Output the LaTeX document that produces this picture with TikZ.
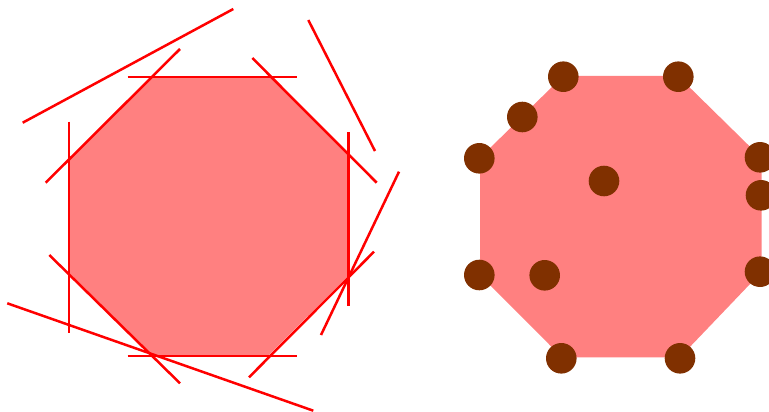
\documentclass[tikz,border=0pt]{standalone}
\definecolor{octfill}{RGB}{255,128,128}
\definecolor{dotbrown}{RGB}{128,48,0}
\tikzset{
  tline/.style={draw=red, line width=2.5pt},
  octo/.style={fill=octfill, draw=none},
  pt/.style={fill=dotbrown}
}
\begin{document}
\begin{tikzpicture}[x=1pt,y=-1pt]
\useasboundingbox (0,0) rectangle (769,412);
% left octagon
\coordinate (TL) at (152,77);
\coordinate (TR) at (271,77);
\coordinate (RT) at (348.5,155);
\coordinate (RB) at (348.5,275);
\coordinate (BR) at (268,356);
\coordinate (BL) at (153,356);
\coordinate (LB) at (69,273);
\coordinate (LT) at (69,159);
\fill[octo] (TL) -- (TR) -- (RT) -- (RB) -- (BR) -- (BL) -- (LB) -- (LT) -- cycle;
% tangent lines
\draw[tline] (127.7,77) -- (296.7,77);
\draw[tline] (127.7,356) -- (296.7,356);
\draw[tline] (69,121.7) -- (69,333.3);
\draw[tline] (348.5,132.3) -- (348.5,306);
\draw[tline] (45.7,182.7) -- (180,49);
\draw[tline] (252.3,58) -- (376.7,182.7);
\draw[tline] (49.3,255) -- (180,383.3);
\draw[tline] (249,377.3) -- (374,251.7);
\draw[tline] (22.7,122.7) -- (233.3,9);
\draw[tline] (308.3,20) -- (375,151);
\draw[tline] (321,335) -- (399,171.7);
\draw[tline] (7.3,303.3) -- (313.3,410.7);
% right octagon
\fill[octo] (563,76) -- (678,76) -- (761.5,158) -- (761.5,272) -- (680,357.3) -- (562,357.3) -- (480,275) -- (480,158) -- cycle;
\foreach \p in {(563.3,76.7),(678.3,76.7),(522.3,117),(479.3,158.3),(604,181),(760,157.3),(761,195.3),(479.3,275),(544.7,275.3),(760,271.7),(561.3,358.3),(680,358.3)}
  \fill[pt] \p circle (15.3);
\end{tikzpicture}
\end{document}
